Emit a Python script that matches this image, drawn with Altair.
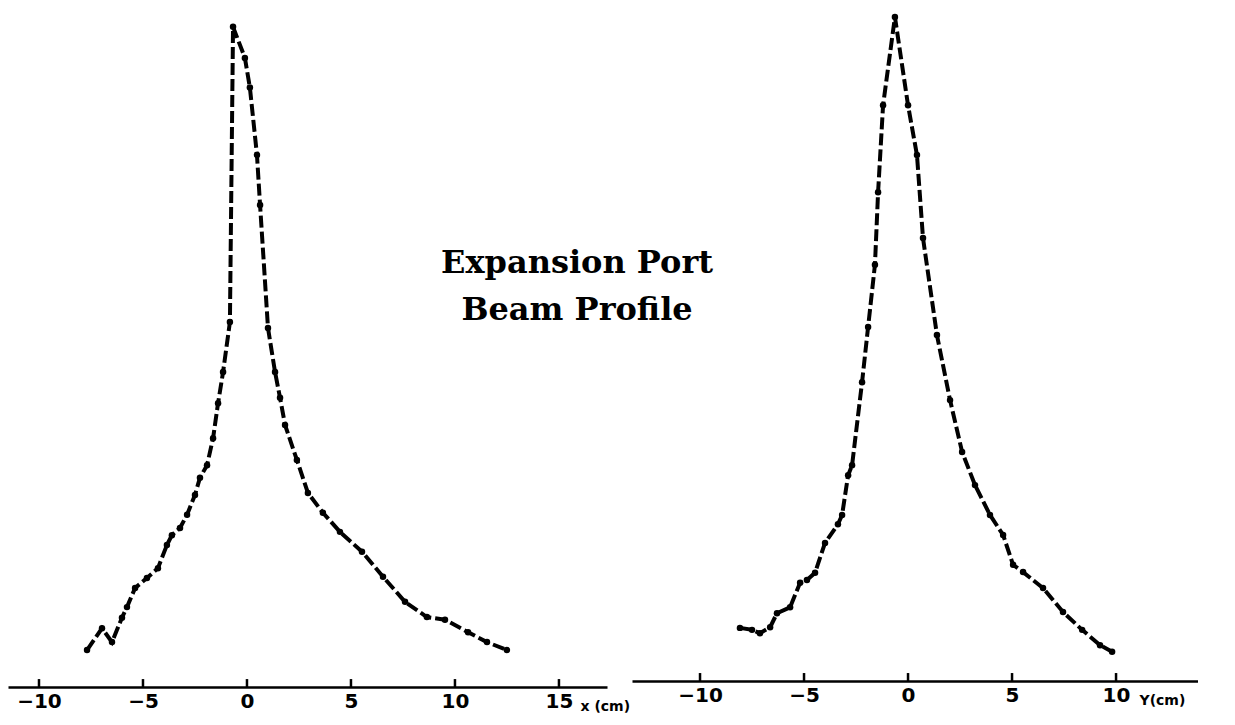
import altair as alt
import pandas as pd

# Left profile (x in cm, relative intensity)
x_pos = [-7.69, -6.97, -6.49, -6.01, -5.77, -5.38, -4.81, -4.28, -3.85, -3.61, -3.22, -2.88,
         -2.50, -2.26, -1.92, -1.63, -1.39, -1.15, -0.82, -0.67, -0.10, 0.14, 0.48, 0.63,
         1.01, 1.35, 1.59, 1.83, 2.40, 2.93, 3.65, 4.47, 5.53, 6.54, 7.60, 8.65, 9.52,
         10.63, 11.54, 12.50]
x_int = [5.6, 8.9, 6.8, 10.5, 12.1, 15.0, 16.5, 18.0, 21.5, 23.0, 24.1, 26.1,
         29.1, 31.7, 33.6, 37.7, 43.0, 47.7, 55.3, 100.0, 95.3, 90.8, 80.6, 73.0,
         54.4, 47.7, 43.8, 39.7, 34.4, 29.4, 26.4, 23.5, 20.5, 16.7, 12.9, 10.6, 10.2,
         8.3, 6.8, 5.6]

# Right profile (y in cm, relative intensity)
y_pos = [-8.08, -7.50, -7.12, -6.63, -6.30, -5.67, -5.19, -4.86, -4.47, -3.99, -3.37, -3.17,
         -2.88, -2.69, -2.21, -1.92, -1.59, -1.44, -1.20, -0.63, 0.00, 0.43, 0.72, 1.39,
         2.02, 2.60, 3.22, 3.94, 4.57, 5.05, 5.53, 6.49, 7.45, 8.37, 9.23, 9.81]
y_int = [8.0, 7.7, 7.2, 8.1, 10.2, 11.1, 14.8, 15.2, 16.3, 20.8, 23.6, 25.0,
         31.0, 32.5, 45.0, 53.3, 62.7, 73.6, 86.7, 100.0, 86.7, 79.2, 66.7, 52.1,
         42.3, 34.5, 29.5, 25.0, 22.0, 17.5, 16.4, 14.0, 10.4, 7.7, 5.4, 4.4]

left_ticks = [-10, -5, 0, 5, 10, 15]
right_ticks = [-10, -5, 0, 5, 10]
label_lines = ["Expansion Port", "Beam Profile"]
label_x = [15.87, 15.87]
label_y = [62.7, 55.6]

df_l = pd.DataFrame({"pos": x_pos, "inten": x_int})
df_r = pd.DataFrame({"pos": y_pos, "inten": y_int})
df_lt = pd.DataFrame({"t": left_ticks, "y0": 0.0, "y1": 1.2})
df_rt = pd.DataFrame({"t": right_ticks, "y0": 0.0, "y1": 1.2})
df_txt = pd.DataFrame({"x": label_x, "y": label_y, "txt": label_lines})

LW, LH = 599, 674
RW, RH = 566, 668
LDOM = [-11.49, 17.31]
RDOM = [-13.27, 13.94]

def xaxis(title, tx, vals):
    return alt.Axis(values=vals, ticks=False, grid=False, domainColor="black", domainWidth=2.6,
                    labelFont="DejaVu Sans", labelFontWeight="bold", labelFontSize=20,
                    labelColor="black", labelPadding=4, labelFlush=False,
                    title=title, titleFont="DejaVu Sans", titleFontWeight="bold",
                    titleFontSize=14, titleColor="black", titleX=tx, titleY=23,
                    titleAlign="left", titleBaseline="alphabetic", titleAngle=0)

def panel(df, dft, dom, w, h, ymax, title, tx, vals):
    xs = alt.Scale(domain=dom, nice=False, zero=False)
    ys = alt.Scale(domain=[0, ymax], nice=False)
    line = alt.Chart(df).mark_line(color="black", strokeWidth=4, strokeDash=[12, 4]).encode(
        x=alt.X("pos:Q", scale=xs, axis=xaxis(title, tx, vals)),
        y=alt.Y("inten:Q", scale=ys, axis=None),
    )
    pts = alt.Chart(df).mark_circle(color="black", opacity=1, size=42).encode(
        x=alt.X("pos:Q", scale=xs), y=alt.Y("inten:Q", scale=ys))
    tk = alt.Chart(dft).mark_rule(color="black", strokeWidth=2.5).encode(
        x=alt.X("t:Q", scale=xs), y=alt.Y("y0:Q", scale=ys), y2="y1:Q")
    return alt.layer(line, pts, tk).properties(width=w, height=h)

left = panel(df_l, df_lt, LDOM, LW, LH, 102.1, "x (cm)", 572, left_ticks)
txt = alt.Chart(df_txt).mark_text(font="DejaVu Serif", fontWeight="bold", fontSize=32,
                                  color="black", align="center", baseline="alphabetic").encode(
    x=alt.X("x:Q", scale=alt.Scale(domain=LDOM, nice=False, zero=False)),
    y=alt.Y("y:Q", scale=alt.Scale(domain=[0, 102.1], nice=False)),
    text="txt:N")
left = alt.layer(left, txt)
right = panel(df_r, df_rt, RDOM, RW, RH, 100.6, "Y(cm)", 507, right_ticks)

chart = alt.hconcat(left, right, spacing=25, bounds="flush").properties(
    padding=0, background="white"
).configure_view(stroke=None)

chart.save("out.html", embed_options={"renderer": "svg", "actions": False})
